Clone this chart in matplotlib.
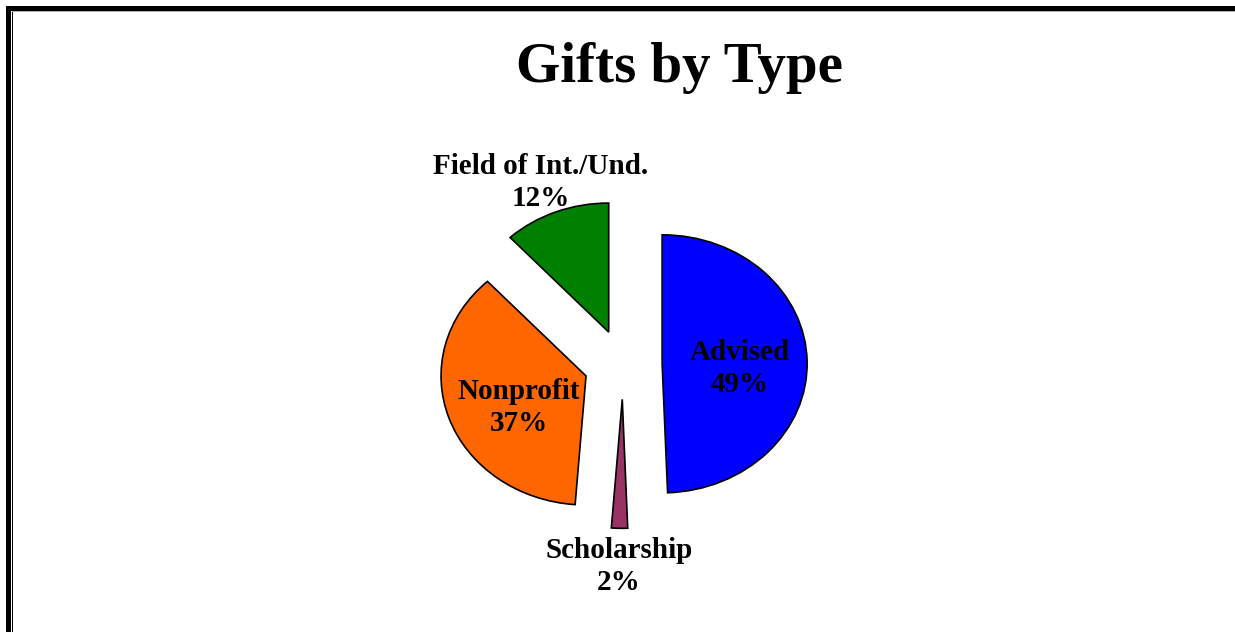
import matplotlib
matplotlib.use("Agg")
import matplotlib.pyplot as plt
from matplotlib.patches import Rectangle

# ---- data ----
categories = ["Advised", "Scholarship", "Nonprofit", "Field of Int./Und."]
values = [49.4, 1.8, 36.9, 11.9]
colors = ["#0000FF", "#993366", "#FF6600", "#008000"]
title = "Gifts by Type"

# ---- layout / style ----
W, H = 1235, 632
explode = [0.27, 0.27, 0.27, 0.27]
# label centres relative to the pie centre (data units)
label_xy = [(0.805, -0.03), (-0.029, -1.566), (-0.721, -0.334), (-0.569, 1.411)]
cx_px, cy_px = 623, 364.5                  # pie centre (pixels from top-left)
sx, sy = 145.0, 129.0                      # pixels per data unit

plt.rcParams['font.family'] = ['Liberation Serif', 'DejaVu Serif']
fig = plt.figure(figsize=(W / 100, H / 100), dpi=100)
fig.patch.set_facecolor("white")
ax = fig.add_axes([0, 0, 1, 1])

wedges, _ = ax.pie(values, colors=colors, startangle=90, counterclock=False,
                   explode=explode,
                   wedgeprops=dict(edgecolor="black", linewidth=1.2))
ax.set_aspect("auto")
ax.set_xlim(-cx_px / sx, (W - cx_px) / sx)
ax.set_ylim(-(H - cy_px) / sy, cy_px / sy)
ax.axis("off")

total = sum(values)
for name, v, (lx, ly) in zip(categories, values, label_xy):
    pct = int(round(100 * v / total))
    ax.text(lx, ly, f"{name}\n{pct}%",
            ha="center", va="center", fontsize=21, fontweight="bold",
            linespacing=1.27, color="black")

fig.text(679 / W, 1 - 82 / H, title, ha="center", va="baseline",
         fontsize=41, fontweight="bold", color="black")

# ---- frame ----
def rect_px(x0, y0, x1, y1, color):
    fig.add_artist(Rectangle((x0 / W, 1 - y1 / H), (x1 - x0) / W, (y1 - y0) / H,
                             transform=fig.transFigure, facecolor=color,
                             edgecolor="none", zorder=10))

rect_px(6, 6, W, 11, "black")        # top thick
rect_px(6, 6, 11, H, "black")        # left thick
rect_px(12, 11, 13.3, H, "black")    # left thin inner
rect_px(12, 11, W, 12.2, "#b0b0b0")  # top thin inner

fig.savefig("out.png", dpi=100, facecolor="white")
